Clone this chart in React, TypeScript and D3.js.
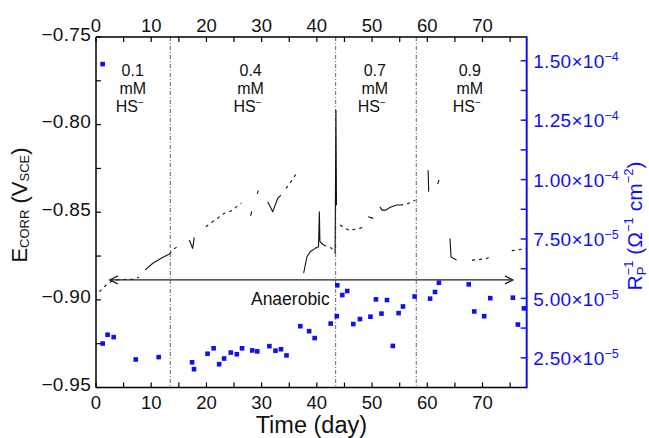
import React from "react";
import * as d3 from "d3";

// ---------- data ----------
const xTicks = [0, 10, 20, 30, 40, 50, 60, 70];
const xMinorTicks = [5, 15, 25, 35, 45, 55, 65, 75];
const eTicks = [-0.95, -0.9, -0.85, -0.8, -0.75];
const eMinorTicks = [-0.925, -0.875, -0.825, -0.775];
const rTicks = [2.5e-5, 5.0e-5, 7.5e-5, 1.0e-4, 1.25e-4, 1.5e-4];
const rTickMantissa = ["2.50", "5.00", "7.50", "1.00", "1.25", "1.50"];
const rTickExponent = ["−5", "−5", "−5", "−4", "−4", "−4"];
const rMinorTicks = [3.75e-5, 6.25e-5, 8.75e-5, 1.125e-4, 1.375e-4];

// concentration change days (vertical separators)
const changeDays = [13.45, 43.4, 58.0];
const phaseLabels = ["0.1", "0.4", "0.7", "0.9"];
const phaseLabelDays = [6.65, 28.0, 50.5, 67.7];

// polarization-resistance reciprocal (Ω^-1 cm^-2) vs day
const rpDays = [1.2, 1.21, 2.1, 3.2, 7.2, 11.35, 17.4, 17.75, 20.2, 21.3, 22.3, 23.2, 24.4, 25.5, 26.45, 28.3, 29.2, 31.4, 32.5, 33.5, 34.5, 37.0, 38.6, 39.6, 42.5, 43.6, 43.7, 44.6, 45.5, 46.6, 47.8, 49.7, 50.7, 51.7, 52.7, 53.75, 54.8, 55.6, 57.7, 60.5, 61.4, 62.1, 67.5, 68.5, 70.3, 71.4, 75.5, 76.4, 77.5];
const rpValues = [14.86e-5, 3.1e-5, 3.47e-5, 3.37e-5, 2.43e-5, 2.53e-5, 2.31e-5, 2.02e-5, 2.67e-5, 2.9e-5, 2.23e-5, 2.47e-5, 2.72e-5, 2.65e-5, 2.9e-5, 2.81e-5, 2.77e-5, 2.99e-5, 2.8e-5, 2.86e-5, 2.6e-5, 3.83e-5, 3.62e-5, 3.33e-5, 3.94e-5, 4.25e-5, 5.55e-5, 5.14e-5, 5.31e-5, 3.92e-5, 4.13e-5, 4.23e-5, 4.96e-5, 4.36e-5, 4.93e-5, 3.0e-5, 4.38e-5, 4.66e-5, 5.08e-5, 4.99e-5, 5.27e-5, 5.66e-5, 5.59e-5, 4.45e-5, 4.25e-5, 5.01e-5, 5.03e-5, 3.9e-5, 4.58e-5];

// E_corr trace pieces [day, V_SCE]
const ecorrContinuous: [number, number][][] = [
  [[8.9, -0.8829], [10.3, -0.8791], [11.8, -0.8763], [13.3, -0.8738]],
  [[16.9, -0.8658], [17.5, -0.8706], [17.8, -0.8643]],
  [[28.0, -0.852], [28.2, -0.8495]],
  [[29.2, -0.8395], [29.4, -0.8375]],
  [[31.1, -0.844], [32.0, -0.8497], [32.9, -0.8421], [33.5, -0.8402]],
  [[37.6, -0.8848], [38.2, -0.8754], [38.8, -0.8725], [39.7, -0.8706], [40.3, -0.8697], [40.45, -0.8497], [40.55, -0.8668], [41.2, -0.8687]],
  [[43.3, -0.8734], [43.45, -0.7918], [43.55, -0.846]],
  [[49.3, -0.8526], [50.2, -0.8535]],
  [[51.4, -0.8469], [51.8, -0.8488], [52.4, -0.8488], [53.3, -0.8472], [54.5, -0.8459], [55.1, -0.8459]],
  [[60.15, -0.826], [60.25, -0.8383]],
  [[61.9, -0.834], [62.1, -0.8315]],
  [[64.1, -0.8649], [64.3, -0.8754], [64.7, -0.8763], [65.3, -0.8773]],
];
const ecorrSparse: [number, number][][] = [
  [[0.6, -0.8953], [1.5, -0.8925], [2.1, -0.8909], [2.9, -0.8892], [4.0, -0.8885], [5.7, -0.8882], [6.9, -0.8882], [7.8, -0.8871]],
  [[13.3, -0.8738], [13.9, -0.8715], [15.1, -0.8687]],
  [[19.9, -0.8583], [21.1, -0.8554], [22.0, -0.8535], [23.2, -0.8506], [24.1, -0.8497], [24.8, -0.8488], [25.4, -0.8469], [26.3, -0.8449]],
  [[34.4, -0.8364], [34.9, -0.8345], [35.9, -0.8298], [36.2, -0.8282]],
  [[41.2, -0.8687], [42.1, -0.8697], [42.7, -0.8706], [43.3, -0.8734]],
  [[44.2, -0.8573], [45.1, -0.8592], [46.0, -0.8605], [46.9, -0.8597], [47.8, -0.8592], [48.4, -0.8583]],
  [[55.1, -0.8459], [56.3, -0.8453], [57.2, -0.844], [57.8, -0.8431]],
  [[68.1, -0.8773], [69.6, -0.8769], [70.8, -0.8763], [71.4, -0.8754]],
  [[75.3, -0.8719], [76.2, -0.8715], [77.1, -0.8711], [78.0, -0.8706]],
];

// anaerobic period arrow
const anaerobicStart = 2.5;
const anaerobicEnd = 75.5;
const anaerobicE = -0.8886;
const anaerobicLabelDay = 35.2;
const anaerobicLabelE = -0.903;

// ---------- layout ----------
const W = 649;
const H = 438;
const L = 96;
const R = 526.7;
const T = 37;
const B = 387.5;
const FONT = "'Liberation Sans', Arial, Helvetica, sans-serif";
const BLUE = "#1010f0";

export default function App() {
  const x = d3.scaleLinear().domain([0, 78]).range([L, R]);
  const yE = d3.scaleLinear().domain([-0.95, -0.75]).range([B, T]);
  const yR = d3.scaleLinear().domain([1.25e-5, 1.6e-4]).range([B, T]);
  const line = d3
    .line<[number, number]>()
    .x((d) => x(d[0]))
    .y((d) => yE(d[1]));
  const fmtE = (v: number) => "−" + Math.abs(v).toFixed(2);
  const ax = x(anaerobicStart);
  const bx = x(anaerobicEnd);
  const ay = yE(anaerobicE);

  return (
    <div style={{ position: "absolute", left: 0, top: 0 }}>
      <svg width={W} height={H} style={{ display: "block", background: "#fff" }} fontFamily={FONT}>
        {/* separators */}
        {changeDays.map((d, i) => (
          <line key={"sep" + i} x1={x(d)} x2={x(d)} y1={T} y2={B} stroke="#555" strokeWidth={0.9} strokeDasharray="4 2 1 2" />
        ))}

        {/* E_corr trace */}
        {ecorrContinuous.map((seg, i) => (
          <path key={"ec" + i} d={line(seg) || ""} fill="none" stroke="#111" strokeWidth={1.1} strokeLinejoin="round" />
        ))}
        {ecorrSparse.map((seg, i) => (
          <path key={"es" + i} d={line(seg) || ""} fill="none" stroke="#111" strokeWidth={1.1} strokeDasharray="3 4" />
        ))}

        {/* anaerobic arrow */}
        <line x1={ax} x2={bx} y1={ay} y2={ay} stroke="#222" strokeWidth={1.3} />
        <path d={`M${ax + 8},${ay - 4} L${ax},${ay} L${ax + 8},${ay + 4}`} fill="none" stroke="#222" strokeWidth={1.3} />
        <path d={`M${bx - 8},${ay - 4} L${bx},${ay} L${bx - 8},${ay + 4}`} fill="none" stroke="#222" strokeWidth={1.3} />
        <text x={x(anaerobicLabelDay)} y={yE(anaerobicLabelE)} fontSize={17.5} textAnchor="middle" fill="#111">
          Anaerobic
        </text>

        {/* Rp points */}
        {rpDays.map((d, i) => (
          <rect key={"rp" + i} x={x(d) - 2.3} y={yR(rpValues[i]) - 2.3} width={4.6} height={4.6} fill={BLUE} />
        ))}

        {/* phase labels */}
        {phaseLabels.map((c, i) => (
          <text key={"pl" + i} x={x(phaseLabelDays[i])} fontSize={16} textAnchor="middle" fill="#111">
            <tspan x={x(phaseLabelDays[i])} y={76}>{c}</tspan>
            <tspan x={x(phaseLabelDays[i])} y={94}>mM</tspan>
            <tspan x={x(phaseLabelDays[i]) - 3} y={112}>HS</tspan>
            <tspan dy={-6} fontSize={10}>−</tspan>
          </text>
        ))}

        {/* axes frame */}
        <line x1={L} x2={R} y1={T} y2={T} stroke="#000" strokeWidth={1.5} />
        <line x1={L} x2={R} y1={B} y2={B} stroke="#000" strokeWidth={1.5} />
        <line x1={L} x2={L} y1={T} y2={B} stroke="#000" strokeWidth={1.5} />
        <line x1={R} x2={R} y1={T - 0.75} y2={B + 0.75} stroke={BLUE} strokeWidth={2} />

        {/* x ticks (bottom + top) */}
        {xTicks.concat(xMinorTicks).map((t, i) => (
          <g key={"xt" + i}>
            <line x1={x(t)} x2={x(t)} y1={B} y2={B - 5} stroke="#000" strokeWidth={1.2} />
            <line x1={x(t)} x2={x(t)} y1={T} y2={T + 5} stroke="#000" strokeWidth={1.2} />
          </g>
        ))}
        {xTicks.map((t, i) => (
          <g key={"xl" + i}>
            <text x={x(t)} y={B + 21} fontSize={18.5} textAnchor="middle" fill="#111">{t}</text>
            <text x={x(t)} y={T - 5.5} fontSize={18.5} textAnchor="middle" fill="#111">{t}</text>
          </g>
        ))}

        {/* left E ticks */}
        {eTicks.concat(eMinorTicks).map((t, i) => (
          <line key={"et" + i} x1={L} x2={L + 5} y1={yE(t)} y2={yE(t)} stroke="#000" strokeWidth={1.2} />
        ))}
        {eTicks.map((t, i) => (
          <text key={"el" + i} x={L - 5} y={yE(t) + 3.5} fontSize={19} letterSpacing={0.3} textAnchor="end" fill="#111">{fmtE(t)}</text>
        ))}

        {/* right R ticks */}
        {rTicks.concat(rMinorTicks).map((t, i) => (
          <line key={"rt" + i} x1={R} x2={R - 6} y1={yR(t)} y2={yR(t)} stroke={BLUE} strokeWidth={1.5} />
        ))}
        {rTicks.map((t, i) => (
          <text key={"rl" + i} x={R + 6.5} y={yR(t) + 7.3} fontSize={19} letterSpacing={0.3} fill={BLUE}>
            {rTickMantissa[i]}×10
            <tspan dy={-7} fontSize={12.5} letterSpacing={0}>{rTickExponent[i]}</tspan>
          </text>
        ))}

        {/* axis titles */}
        <text x={(L + R) / 2} y={432.5} fontSize={23.5} textAnchor="middle" fill="#111">Time (day)</text>
        <text transform={`translate(27,205) rotate(-90)`} fontSize={22} textAnchor="middle" fill="#111">
          E<tspan fontSize={13} dy={2}>CORR</tspan>
          <tspan dy={-2}> (V</tspan>
          <tspan fontSize={13} dy={2}>SCE</tspan>
          <tspan dy={-2}>)</tspan>
        </text>
        <text transform={`translate(641.5,226) rotate(-90)`} fontSize={21} textAnchor="middle" fill={BLUE}>
          R<tspan fontSize={13} dy={4}>P</tspan>
          <tspan fontSize={13} dx={-8.7} dy={-13}>−1</tspan>
          <tspan dy={9}> (Ω</tspan>
          <tspan fontSize={13} dy={-9}>−1</tspan>
          <tspan dy={9}> cm</tspan>
          <tspan fontSize={13} dy={-9}>−2</tspan>
          <tspan dy={9}>)</tspan>
        </text>
      </svg>
    </div>
  );
}
